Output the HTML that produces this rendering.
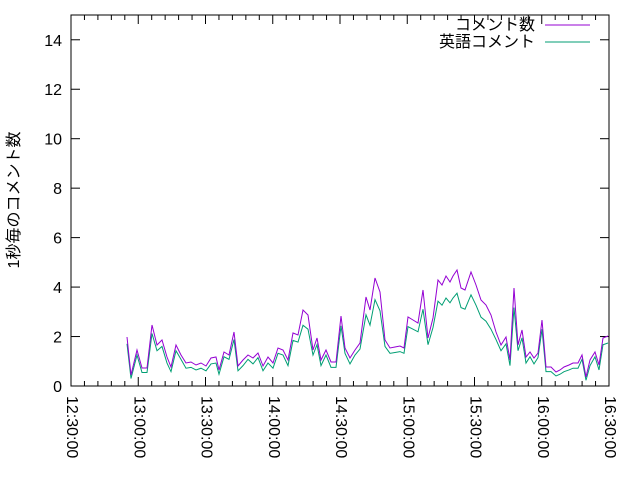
<!DOCTYPE html>
<html><head><meta charset="utf-8"><style>
body{margin:0;background:#fff}
svg text{font-family:"Liberation Sans","Noto Sans CJK JP",sans-serif;font-size:16px;fill:#000}
</style></head><body>
<svg id="s" width="640" height="480" xmlns="http://www.w3.org/2000/svg">
<rect x="71" y="15" width="538" height="371" fill="none" stroke="#000" stroke-width="1"/>
<g id="ticks" stroke="#000" stroke-width="1"></g>
<g id="labels"></g>
<text transform="translate(19,200) rotate(-90)" text-anchor="middle" font-size="15">1秒毎のコメント数</text>
<text x="535" y="30" text-anchor="end" font-size="15">コメント数</text>
<line x1="545" y1="25" x2="590" y2="25" stroke="#9400d3"/>
<text x="535" y="47" text-anchor="end" font-size="15">英語コメント</text>
<line x1="545" y1="42" x2="590" y2="42" stroke="#009e73"/>
<polyline id="g" fill="none" stroke="#009e73" stroke-width="1"/>
<polyline id="p" fill="none" stroke="#9400d3" stroke-width="1"/>
</svg>
<script>
var NS="http://www.w3.org/2000/svg";
var t=document.getElementById('ticks'),L=document.getElementById('labels');
function el(n,a,par){var e=document.createElementNS(NS,n);for(var k in a)e.setAttribute(k,a[k]);par.appendChild(e);return e;}
for(var i=0;i<=7;i++){var y=386-i*2*24.73;
 el('line',{x1:71,y1:y,x2:80,y2:y},t);el('line',{x1:609,y1:y,x2:600,y2:y},t);
 var tx=el('text',{x:62,y:y+6,'text-anchor':'end'},L);tx.textContent=String(i*2);}
var labs=["12:30:00","13:00:00","13:30:00","14:00:00","14:30:00","15:00:00","15:30:00","16:00:00","16:30:00"];
for(var i=0;i<=40;i++){var x=71+i*538/40;var len=(i%5==0)?9:5;
 el('line',{x1:x,y1:386,x2:x,y2:386-len},t);el('line',{x1:x,y1:15,x2:x,y2:15+len},t);}
for(var i=0;i<9;i++){var x=71+i*538/8;
 var tx=el('text',{transform:'translate('+(x-4)+',396) rotate(90)','font-size':'18'},L);tx.textContent=labs[i];}
var d=[127,337,131,375,137,350,142,368,147,368,152,325,157,345,162,340,167,357,171,367,176,345,181,355,186,363,191,362,196,365,201,363,206,366,211,358,216,357,219,370,224,352,229,355,234,332,238,366,243,360,248,355,253,358,258,353,263,366,268,357,273,363,278,348,283,350,288,360,293,333,298,335,303,310,308,315,313,350,317,338,321,360,326,350,331,362,336,362,341,316,345,348,350,358,355,350,360,343,366,297,370,310,375,278,380,292,385,340,390,348,395,347,400,346,404,348,408,317,413,320,418,323,423,290,428,338,433,318,438,280,442,285,446,276,450,282,453,276,457,270,461,288,465,290,471,272,476,285,481,300,486,305,491,315,496,332,501,345,506,337,510,360,514,288,518,345,522,330,526,357,530,352,534,358,538,353,542,320,546,367,551,367,556,372,560,370,564,367,569,365,573,363,578,363,582,355,586,377,590,360,595,352,599,365,603,338,608,336];
var p=[],g=[];
for(var i=0;i<d.length;i+=2){var x=d[i],y=d[i+1];p.push(x+','+y);
 var v=386-y;var f=v>70?0.8:0.86;g.push(x+','+(386-v*f+ (v<30?2:0)));}
document.getElementById('p').setAttribute('points',p.join(' '));
document.getElementById('g').setAttribute('points',g.join(' '));
</script>
</body></html>
